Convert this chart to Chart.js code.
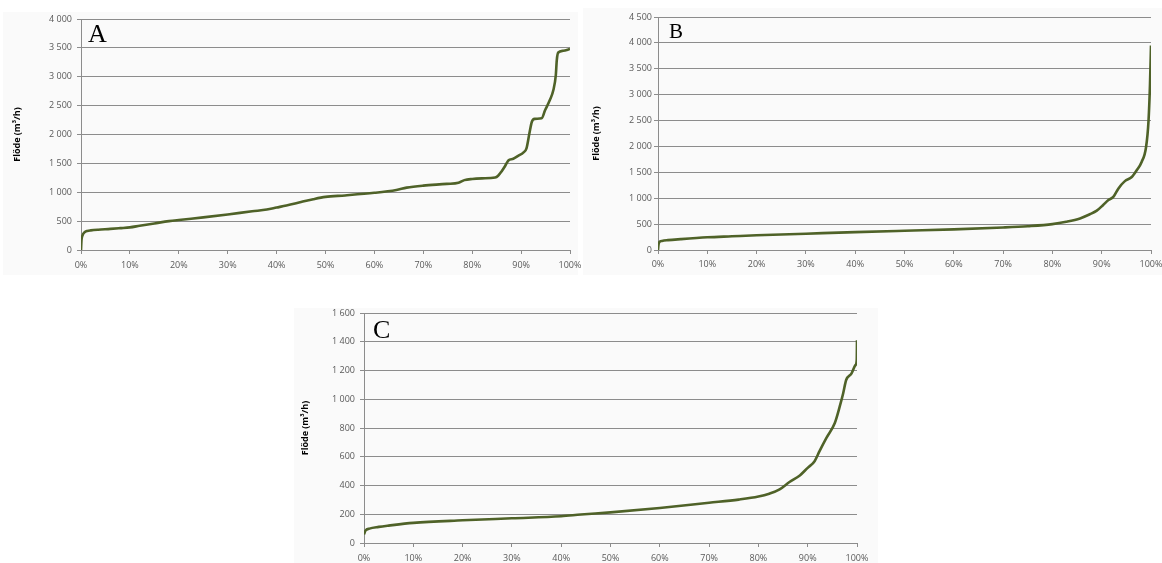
<!DOCTYPE html>
<html><head><meta charset="utf-8">
<script src="https://cdn.jsdelivr.net/npm/chart.js@4.4.1/dist/chart.umd.min.js"></script>
<style>
html,body{margin:0;padding:0;background:#fff;overflow:hidden;width:1162px;height:563px;}
.panel{position:absolute;background:#fafafa;}
canvas{position:absolute;}
</style></head><body>
<div class="panel" style="left:3px;top:12px;width:575px;height:263px"></div>
<div class="panel" style="left:583px;top:8px;width:579px;height:267px"></div>
<div class="panel" style="left:294px;top:308px;width:584px;height:255px"></div>
<canvas id="cA" width="600" height="280" style="left:0;top:0"></canvas>
<canvas id="cB" width="600" height="280" style="left:580px;top:0"></canvas>
<canvas id="cC" width="600" height="263" style="left:290px;top:300px"></canvas>
<script>
// ---- data (x: share of time in %, y: flow m3/h) ----
const pctA = [0, 0.1, 0.3, 0.7, 1.3, 2, 3.5, 6, 8, 10, 12, 15, 18, 20, 25, 30, 35, 38, 40, 42, 45, 47.5, 50, 54, 60, 64.5, 66.6, 70, 74.8, 77.2, 78.4, 80, 82, 84.7, 85.3, 86, 86.7, 87.4, 88.4, 89.4, 90.5, 91.1, 91.7, 92.2, 92.8, 94.2, 94.9, 95.9, 96.6, 97.1, 97.3, 97.6, 98.6, 100];
const flowA = [0, 170, 250, 305, 330, 340, 352, 365, 378, 392, 420, 460, 500, 520, 565, 615, 670, 700, 735, 770, 830, 880, 920, 945, 990, 1040, 1080, 1115, 1145, 1165, 1210, 1230, 1240, 1255, 1285, 1360, 1450, 1550, 1580, 1630, 1690, 1760, 2020, 2220, 2270, 2280, 2420, 2600, 2770, 3030, 3290, 3420, 3450, 3480];

const pctB = [0, 0.1, 0.25, 0.8, 2, 4.6, 10, 15, 20, 30, 40, 50, 60, 70, 75, 80, 82.8, 85.6, 87.6, 89, 90.3, 91.3, 92.4, 93.4, 94.7, 96.1, 97.1, 98.1, 99, 99.5, 99.8, 100];
const flowB = [0, 100, 150, 175, 190, 210, 245, 265, 285, 315, 345, 372, 398, 435, 460, 500, 545, 610, 690, 760, 870, 960, 1030, 1190, 1330, 1410, 1540, 1700, 1990, 2500, 3210, 3950];

const pctC = [0, 0.3, 1.1, 3, 5, 10, 20, 30, 40, 44, 50, 60, 70, 76, 80, 82.2, 84.3, 86.3, 88.4, 90, 91.4, 92.4, 93.8, 95.5, 96.5, 97.2, 97.8, 98.9, 99.7, 99.95, 100];
const flowC = [60, 86, 100, 112, 121, 140, 158, 172, 186, 198, 213, 244, 280, 302, 323, 343, 373, 424, 470, 523, 569, 639, 731, 835, 950, 1042, 1134, 1180, 1238, 1275, 1410];

const panelLetters = ['A', 'B', 'C'];
const yAxisTitle = 'Flöde (m³/h)';
const yMaxes = [4000, 4500, 1600];
const ySteps = [500, 500, 200];
const xMin = 0, xMax = 100, xStep = 10;

function fmtThousands(v) {
  if (v >= 1000) return Math.floor(v / 1000) + ' ' + String(v % 1000).padStart(3, '0');
  return String(v);
}

const letterPlugin = {
  id: 'letter',
  afterDraw(chart, args, opts) {
    const {ctx, chartArea} = chart;
    ctx.save();
    ctx.font = opts.size + 'px "Liberation Serif", "Times New Roman", serif';
    ctx.fillStyle = '#000';
    ctx.textBaseline = 'alphabetic';
    ctx.textAlign = 'left';
    ctx.fillText(opts.text, chartArea.left + opts.dx, chartArea.top + opts.dy);
    ctx.restore();
  }
};

const GRID = '#8c8c8c';
const TICKC = '#595959';

function makeChart(id, pct, flow, idx, L) {
  new Chart(document.getElementById(id), {
    type: 'line',
    data: {
      datasets: [{
        data: pct.map((p, i) => ({x: p, y: flow[i]})),
        borderColor: '#4f6228',
        borderWidth: 2.6,
        pointRadius: 0,
        cubicInterpolationMode: 'monotone',
        fill: false
      }]
    },
    options: {
      responsive: false, animation: false, devicePixelRatio: 1,
      layout: {padding: {left: 0, top: L.top, right: L.cw - L.right, bottom: L.ch - L.bottom - 25}},
      plugins: {
        legend: {display: false}, tooltip: {enabled: false},
        letter: {text: panelLetters[idx], size: L.lsize, dx: L.ldx, dy: L.ldy}
      },
      scales: {
        x: {
          type: 'linear', min: xMin, max: xMax,
          ticks: {stepSize: xStep, callback: v => v + '%', color: TICKC, font: {family: 'Open Sans', size: 9}, padding: L.xpad, maxRotation: 0, autoSkip: false},
          grid: {drawOnChartArea: false, drawTicks: true, tickLength: 4, color: GRID},
          border: {display: true, color: GRID},
          afterFit: s => { s.height = 25; }
        },
        y: {
          min: 0, max: yMaxes[idx],
          ticks: {stepSize: ySteps[idx], callback: fmtThousands, color: TICKC, font: {family: 'Open Sans', size: 9}, padding: L.ypad},
          grid: {color: GRID, tickLength: 4},
          border: {display: true, color: GRID},
          title: {display: true, text: yAxisTitle, color: '#000', font: {family: 'Open Sans', size: 9, weight: 'bold'}, padding: {top: L.tpad, bottom: 0}},
          afterFit: s => { s.width = L.left; }
        }
      }
    },
    plugins: [letterPlugin]
  });
}

makeChart('cA', pctA, flowA, 0, {cw: 600, ch: 280, left: 81, top: 19, right: 570, bottom: 250, xpad: 6, ypad: 5, tpad: 12, lsize: 26, ldx: 7, ldy: 23});
makeChart('cB', pctB, flowB, 1, {cw: 600, ch: 280, left: 78, top: 17, right: 571, bottom: 250, xpad: 5, ypad: 2, tpad: 11, lsize: 21, ldx: 11, ldy: 21});
makeChart('cC', pctC, flowC, 2, {cw: 600, ch: 263, left: 74, top: 13, right: 567, bottom: 243, xpad: 6, ypad: 5, tpad: 10, lsize: 26, ldx: 9, ldy: 25});
</script>
</body></html>
